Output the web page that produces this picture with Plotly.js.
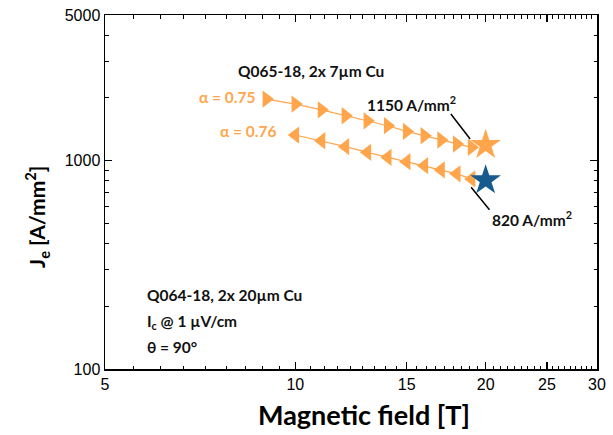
<!DOCTYPE html>
<html>
<head>
<meta charset="utf-8">
<script src="https://cdn.plot.ly/plotly-3.0.1.min.js"></script>
<style>html,body{margin:0;padding:0;background:#fff;}#chart{width:613px;height:435px;}</style>
</head>
<body>
<div id="chart"></div>
<script>
// ---- data ----
const fieldA75 = [9, 10, 11, 12, 13, 14, 15, 16, 17, 18, 19];
const jeA75    = [1974, 1868, 1754, 1642, 1553, 1471, 1381, 1317, 1256, 1202, 1158];
const fieldA76 = [10, 11, 12, 13, 14, 15, 16, 17, 18, 19];
const jeA76    = [1327, 1246, 1167, 1096, 1037, 989, 946, 903, 864, 817];
const starQ065 = {field: [20], je: [1190]};
const starQ064 = {field: [20], je: [805]};
const xTickVals = [5, 10, 15, 20, 25, 30];
const xTickText = ['5', '10', '15', '20', '25', '30'];
const yTickVals = [100, 1000, 5000];
const yTickText = ['100', '1000', '5000'];

// minor tick positions (8 per x major interval, standard log minors on y)
const xMinor = [];
for (let i = 0; i < xTickVals.length - 1; i++) {
  const a = xTickVals[i], b = xTickVals[i + 1];
  for (let k = 1; k <= 8; k++) xMinor.push(a + (b - a) * k / 9);
}
const yMinor = [200, 300, 400, 500, 600, 700, 800, 900, 2000, 3000, 4000];

const orange = '#FFA64D';
const blue = '#165A8E';
const bold = 'Lato, "Open Sans", sans-serif';

const traces = [
  {x: fieldA75, y: jeA75, mode: 'lines+markers', type: 'scatter',
   line: {color: orange, width: 1.2},
   marker: {symbol: 'triangle-right', size: 15, color: orange}},
  {x: fieldA76, y: jeA76, mode: 'lines+markers', type: 'scatter',
   line: {color: orange, width: 1.2},
   marker: {symbol: 'triangle-left', size: 15, color: orange}},
  {x: starQ065.field, y: starQ065.je, mode: 'markers', type: 'scatter',
   marker: {symbol: 'star', size: 23, color: orange}},
  {x: starQ064.field, y: starQ064.je, mode: 'markers', type: 'scatter',
   marker: {symbol: 'star', size: 23, color: blue}}
];

const L = Math.log10;
const ann = (x, y, text, opts) => Object.assign({
  x: L(x), y: L(y), xref: 'x', yref: 'y', text: text, showarrow: false,
  xanchor: 'left', yanchor: 'middle',
  font: {family: bold, size: 15.5, color: '#111', weight: 'bold'}
}, opts || {});

const layout = {
  width: 613, height: 435,
  margin: {l: 105, r: 16, t: 15, b: 66},
  paper_bgcolor: '#fff', plot_bgcolor: '#fff',
  showlegend: false,
  xaxis: {
    type: 'log', range: [L(5), L(30)],
    tickmode: 'array', tickvals: xTickVals, ticktext: xTickText,
    ticks: 'inside', ticklen: 7, tickwidth: 1.2, tickcolor: '#000',
    minor: {tickmode: 'array', tickvals: xMinor, ticks: 'inside', ticklen: 3.5, tickwidth: 1, tickcolor: '#000', showgrid: false},
    showline: true, linecolor: '#000', linewidth: 1.5, mirror: 'allticks',
    showgrid: false, zeroline: false,
    tickfont: {family: 'Liberation Sans, Arial, sans-serif', size: 16, color: '#000'}
  },
  yaxis: {
    type: 'log', range: [2, L(5000)],
    tickmode: 'array', tickvals: yTickVals, ticktext: yTickText,
    ticks: 'inside', ticklen: 7, tickwidth: 1.2, tickcolor: '#000',
    minor: {tickmode: 'array', tickvals: yMinor, ticks: 'inside', ticklen: 3.5, tickwidth: 1, tickcolor: '#000', showgrid: false},
    showline: true, linecolor: '#000', linewidth: 1.5, mirror: 'allticks',
    showgrid: false, zeroline: false,
    tickfont: {family: 'Liberation Sans, Arial, sans-serif', size: 16, color: '#000'}
  },
  shapes: [
    {type: 'line', xref: 'x', yref: 'y', x0: 17.62, y0: 1673, x1: 18.9, y1: 1270, line: {color: '#000', width: 1.5}},
    {type: 'line', xref: 'x', yref: 'y', x0: 18.97, y0: 745, x1: 20.28, y1: 581, line: {color: '#000', width: 1.5}}
  ],
  annotations: [
    ann(8.06, 2700, 'Q065-18, 2x 7µm Cu'),
    ann(6.99, 2023, 'α = 0.75', {font: {family: bold, size: 15.5, color: orange, weight: 'bold'}}),
    ann(7.55, 1390, 'α = 0.76', {font: {family: bold, size: 15.5, color: orange, weight: 'bold'}}),
    ann(12.88, 1874, '1150 A/mm<sup>2</sup>'),
    ann(20.3, 528, '820 A/mm<sup>2</sup>'),
    ann(5.79, 226, 'Q064-18, 2x 20µm Cu'),
    ann(5.79, 168, 'I<sub>c</sub> @ 1 µV/cm'),
    ann(5.79, 127, 'θ = 90°'),
    {xref: 'paper', yref: 'paper', x: 0.526, y: -0.075, yanchor: 'top', xanchor: 'center', showarrow: false,
     text: 'Magnetic field [T]', font: {family: bold, size: 27, color: '#000', weight: 'bold'}},
    {xref: 'paper', yref: 'paper', x: -0.138, xanchor: 'center', y: 0.43, yanchor: 'middle', showarrow: false, textangle: -90,
     text: 'J<sub>e</sub> [A/mm<sup>2</sup>]', font: {family: bold, size: 21, color: '#000', weight: 'bold'}}
  ]
};

Plotly.newPlot('chart', traces, layout, {displayModeBar: false, staticPlot: true});
</script>
</body>
</html>
